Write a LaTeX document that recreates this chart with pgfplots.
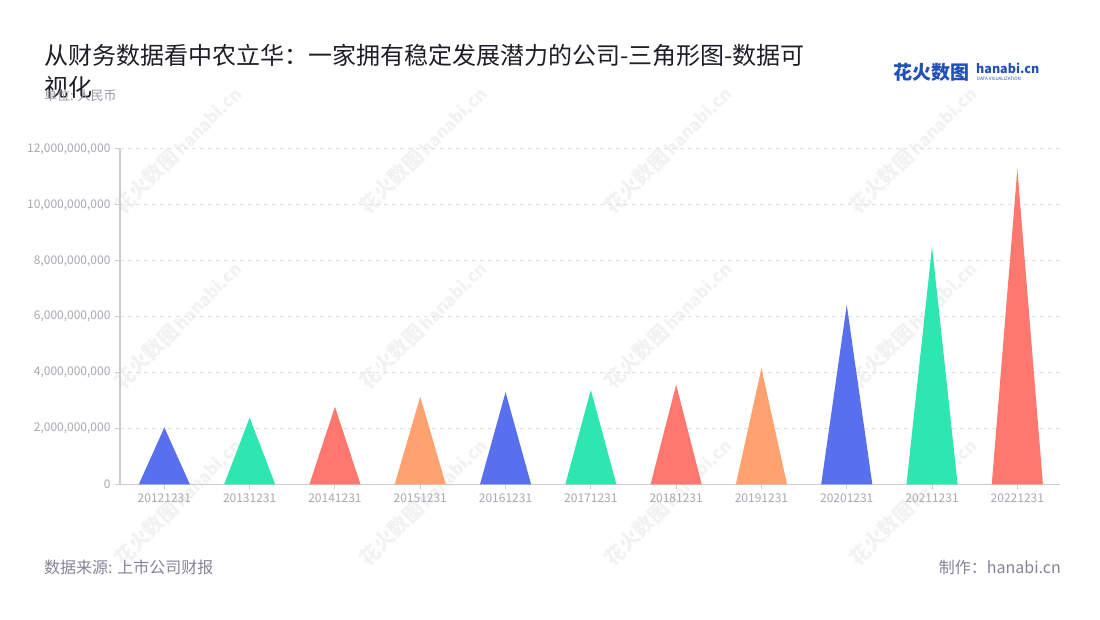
\documentclass[border=0pt]{standalone}
\usepackage{fontspec}
\setmainfont{Noto Sans CJK SC}
\usepackage{pgfplots}
\pgfplotsset{compat=1.18}
\definecolor{cblue}{HTML}{5870EE}
\definecolor{cgreen}{HTML}{2EE6B0}
\definecolor{cred}{HTML}{FF7870}
\definecolor{corange}{HTML}{FFA270}
\definecolor{axgray}{HTML}{CCCCCC}
\definecolor{gridgray}{HTML}{E0E0E0}
\definecolor{ticktext}{HTML}{A8A8B0}
\definecolor{titlecol}{HTML}{1E1E28}
\definecolor{subcol}{HTML}{9A9AA6}
\definecolor{footcol}{HTML}{85859A}
\definecolor{logoblue}{HTML}{2050B8}
\definecolor{wm}{HTML}{F2F2F2}
\begin{document}
\begin{tikzpicture}
\path[use as bounding box, fill=white] (0pt,0pt) rectangle (1100pt,620pt);
% watermarks
\foreach \cx in {178,423,668,913}{
  \foreach \cy in {470,295,118}{
    \node[rotate=45, text=wm, font=\fontsize{20}{20}\selectfont\bfseries, inner sep=0] at (\cx pt,\cy pt) {花火数图\,{\fontsize{17}{17}\selectfont hanabi.cn}};
  }
}
\begin{axis}[
  at={(120pt,135.5pt)}, anchor=south west,
  width=940pt, height=335.5pt, scale only axis,
  xmin=-0.52, xmax=10.5, ymin=0, ymax=12000000000,
  scaled y ticks=false,
  axis lines=left, axis line style={-, draw=axgray, line width=1.5pt},
  xtick={0,1,2,3,4,5,6,7,8,9,10},
  xticklabels={20121231,20131231,20141231,20151231,20161231,20171231,20181231,20191231,20201231,20211231,20221231},
  ytick={0,2000000000,4000000000,6000000000,8000000000,10000000000,12000000000},
  yticklabels={0,{2,000,000,000},{4,000,000,000},{6,000,000,000},{8,000,000,000},{10,000,000,000},{12,000,000,000}},
  tick align=outside, major tick length=5pt,
  tick style={draw=axgray, line width=1pt},
  xtick pos=bottom, ytick pos=left,
  ymajorgrids, grid style={draw=gridgray, line width=1pt, dash pattern=on 4pt off 4pt},
  ticklabel style={text=ticktext, font=\fontsize{12}{12}\selectfont},
  xticklabel style={yshift=-1pt},
  yticklabel style={xshift=-1pt},
  clip=false,
]
\addplot[fill=cblue, draw=none] coordinates {(-0.3,0) (0,2040000000) (0.3,0)} \closedcycle;
\addplot[fill=cgreen, draw=none] coordinates {(0.7,0) (1,2390000000) (1.3,0)} \closedcycle;
\addplot[fill=cred, draw=none] coordinates {(1.7,0) (2,2780000000) (2.3,0)} \closedcycle;
\addplot[fill=corange, draw=none] coordinates {(2.7,0) (3,3140000000) (3.3,0)} \closedcycle;
\addplot[fill=cblue, draw=none] coordinates {(3.7,0) (4,3300000000) (4.3,0)} \closedcycle;
\addplot[fill=cgreen, draw=none] coordinates {(4.7,0) (5,3380000000) (5.3,0)} \closedcycle;
\addplot[fill=cred, draw=none] coordinates {(5.7,0) (6,3570000000) (6.3,0)} \closedcycle;
\addplot[fill=corange, draw=none] coordinates {(6.7,0) (7,4160000000) (7.3,0)} \closedcycle;
\addplot[fill=cblue, draw=none] coordinates {(7.7,0) (8,6420000000) (8.3,0)} \closedcycle;
\addplot[fill=cgreen, draw=none] coordinates {(8.7,0) (9,8510000000) (9.3,0)} \closedcycle;
\addplot[fill=cred, draw=none] coordinates {(9.7,0) (10,11280000000) (10.3,0)} \closedcycle;
\end{axis}
% title
\node[anchor=west, text=titlecol, font=\fontsize{24}{24}\selectfont, inner sep=0] at (44pt,565pt) {从财务数据看中农立华：一家拥有稳定发展潜力的公司-三角形图-数据可};
\node[anchor=west, text=titlecol, font=\fontsize{24}{24}\selectfont, inner sep=0] at (44pt,533pt) {视化};
\node[anchor=west, text=subcol, font=\fontsize{13}{13}\selectfont, inner sep=0] at (44pt,524pt) {单位: 人民币};
% logo
\node[anchor=west, text=logoblue, font=\fontsize{19}{19}\selectfont\bfseries, inner sep=0] at (893pt,548pt) {花火数图};
\node[anchor=west, text=logoblue, font=\fontsize{12.5}{12.5}\selectfont\bfseries, inner sep=0] at (976pt,552pt) {hanabi.cn};
\node[anchor=west, text=logoblue, font=\fontsize{4.5}{4.5}\selectfont, inner sep=0] at (977pt,541pt) {DATA VISUALIZATION};
% footer
\node[anchor=west, text=footcol, font=\fontsize{16}{16}\selectfont, inner sep=0] at (44pt,53pt) {数据来源: 上市公司财报};
\node[anchor=east, text=footcol, font=\fontsize{16}{16}\selectfont, inner sep=0] at (1061pt,53pt) {制作：hanabi.cn};
\end{tikzpicture}
\end{document}
